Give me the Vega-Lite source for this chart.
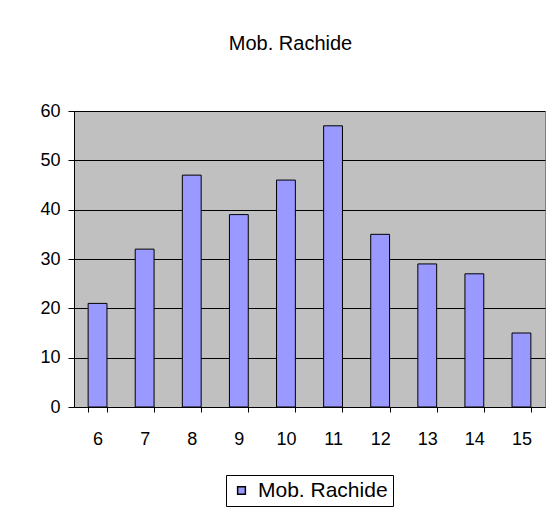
{
  "$schema": "https://vega.github.io/schema/vega-lite/v6.json",
  "width": 471,
  "height": 296,
  "autosize": {"type": "none"},
  "padding": {"left": 74, "top": 111, "right": 8, "bottom": 102},
  "background": "white",
  "title": {
    "text": "Mob. Rachide",
    "font": "Liberation Sans",
    "fontSize": 20,
    "fontWeight": "normal",
    "color": "black",
    "anchor": "middle",
    "frame": "group",
    "baseline": "alphabetic",
    "dx": -19,
    "offset": 32
  },
  "data": {
    "values": [
      {"eta": 6, "valore": 21, "serie": "Mob. Rachide"},
      {"eta": 7, "valore": 32, "serie": "Mob. Rachide"},
      {"eta": 8, "valore": 47, "serie": "Mob. Rachide"},
      {"eta": 9, "valore": 39, "serie": "Mob. Rachide"},
      {"eta": 10, "valore": 46, "serie": "Mob. Rachide"},
      {"eta": 11, "valore": 57, "serie": "Mob. Rachide"},
      {"eta": 12, "valore": 35, "serie": "Mob. Rachide"},
      {"eta": 13, "valore": 29, "serie": "Mob. Rachide"},
      {"eta": 14, "valore": 27, "serie": "Mob. Rachide"},
      {"eta": 15, "valore": 15, "serie": "Mob. Rachide"}
    ]
  },
  "mark": {"type": "bar", "stroke": "black", "strokeWidth": 1},
  "encoding": {
    "x": {
      "field": "eta",
      "type": "ordinal",
      "scale": {"paddingInner": 0.6, "paddingOuter": 0.3},
      "axis": {
        "title": null,
        "labelAngle": 0,
        "tickBand": "extent",
        "tickSize": 5,
        "labelPadding": 18,
        "grid": false
      }
    },
    "y": {
      "field": "valore",
      "type": "quantitative",
      "scale": {"domain": [0, 60], "nice": false},
      "axis": {
        "title": null,
        "values": [0, 10, 20, 30, 40, 50, 60],
        "tickSize": 6,
        "labelPadding": 8,
        "grid": true,
        "gridColor": "black",
        "gridWidth": 1,
        "gridOpacity": 1
      }
    },
    "color": {
      "field": "serie",
      "type": "nominal",
      "scale": {"range": ["#9999FF"]},
      "legend": {
        "title": null,
        "orient": "none",
        "legendX": 152,
        "legendY": 364,
        "padding": 5,
        "strokeColor": "black",
        "fillColor": "white",
        "symbolType": "square",
        "symbolSize": 60,
        "symbolStrokeColor": "black",
        "symbolStrokeWidth": 1.5,
        "symbolOpacity": 1,
        "labelOffset": 6,
        "labelFontSize": 21,
        "labelFont": "Liberation Sans",
        "labelColor": "black"
      }
    }
  },
  "config": {
    "view": {"fill": "#C0C0C0", "stroke": "#808080", "strokeWidth": 1},
    "axis": {
      "domainColor": "black",
      "domainWidth": 1,
      "tickColor": "black",
      "tickWidth": 1,
      "labelColor": "black",
      "labelFont": "Liberation Sans",
      "labelFontSize": 18
    }
  }
}
